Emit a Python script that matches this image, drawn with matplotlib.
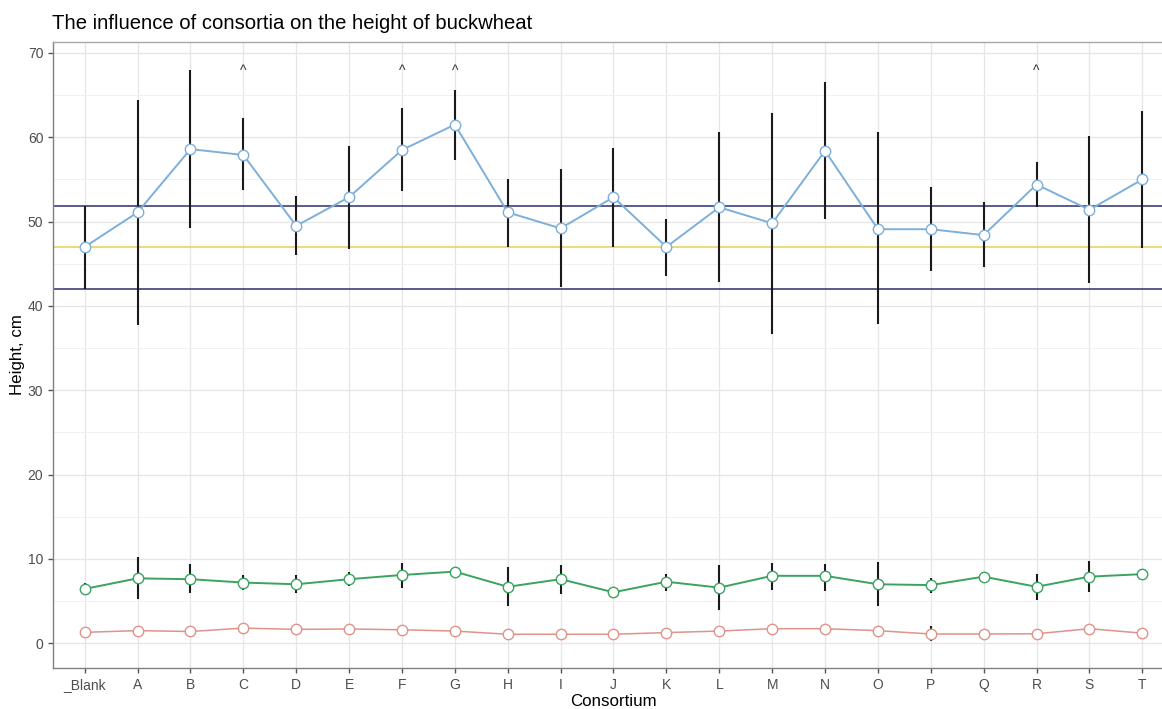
import matplotlib
matplotlib.use("Agg")
import matplotlib.pyplot as plt
from matplotlib.ticker import MultipleLocator
import numpy as np

plt.rcParams['font.family'] = ['Liberation Sans', 'DejaVu Sans']

categories = ["_Blank", "A", "B", "C", "D", "E", "F", "G", "H", "I", "J",
              "K", "L", "M", "N", "O", "P", "Q", "R", "S", "T"]

height_mean = [47.0, 51.1, 58.6, 57.9, 49.5, 52.9, 58.5, 61.5, 51.1, 49.2, 52.9,
               47.0, 51.7, 49.8, 58.4, 49.1, 49.1, 48.4, 54.4, 51.4, 55.0]
height_hi = [51.8, 64.4, 68.0, 62.3, 53.0, 59.0, 63.5, 65.6, 55.1, 56.2, 58.7,
             50.3, 60.6, 62.9, 66.5, 60.6, 54.1, 52.3, 57.1, 60.2, 63.1]
height_lo = [42.0, 37.8, 49.2, 53.7, 46.1, 46.7, 53.6, 57.3, 47.0, 42.2, 47.0,
             43.6, 42.8, 36.7, 50.3, 37.9, 44.1, 44.6, 51.7, 42.7, 46.9]

green_mean = [6.45, 7.7, 7.6, 7.2, 7.0, 7.6, 8.1, 8.5, 6.7, 7.6, 6.05,
              7.3, 6.6, 8.0, 8.0, 7.0, 6.9, 7.9, 6.7, 7.9, 8.2]
green_hi = [7.2, 10.2, 9.4, 8.1, 8.1, 8.4, 9.5, 8.6, 9.0, 9.3, 6.1,
            8.2, 9.3, 9.5, 9.4, 9.6, 7.7, 8.0, 8.2, 9.7, 8.6]
green_lo = [5.9, 5.2, 6.0, 6.3, 6.0, 6.8, 6.6, 8.4, 4.4, 5.9, 6.0,
            6.2, 3.95, 6.3, 6.2, 4.4, 6.0, 7.8, 5.1, 6.05, 7.5]

red_mean = [1.3, 1.5, 1.4, 1.8, 1.65, 1.7, 1.6, 1.45, 1.07, 1.07, 1.07,
            1.27, 1.45, 1.73, 1.73, 1.5, 1.1, 1.1, 1.13, 1.73, 1.2]
red_hi = [1.5, 1.7, 1.6, 2.0, 1.9, 1.9, 1.8, 1.6, 1.2, 1.2, 1.2,
          1.4, 1.6, 1.9, 1.9, 1.7, 2.0, 1.2, 1.3, 1.9, 1.4]
red_lo = [1.1, 1.3, 1.2, 1.6, 1.4, 1.5, 1.4, 1.3, 0.95, 0.95, 0.95,
          1.1, 1.3, 1.55, 1.55, 1.3, 0.3, 1.0, 1.0, 1.55, 1.0]

blank_mean = 47.0
blank_upper = 51.8
blank_lower = 42.0

marked = ["C", "F", "G", "R"]
caret_y = 67.4

fig = plt.figure(figsize=(11.62, 7.09), dpi=100)
ax = fig.add_axes([53 / 1162, 1 - 668 / 709, (1174 - 53) / 1162, (668 - 42) / 709])

x = np.arange(len(categories))

ax.set_xlim(-0.6, len(categories) - 1 + 0.6)
ax.set_ylim(-2.93, 71.3)

ax.yaxis.set_major_locator(MultipleLocator(10))
ax.yaxis.set_minor_locator(MultipleLocator(5))
ax.set_xticks(x)
ax.set_xticklabels(categories)

ax.grid(which='major', color='#E6E6E6', linewidth=0.9, zorder=0)
ax.grid(which='minor', axis='y', color='#F0F0F0', linewidth=0.7, zorder=0)
ax.set_axisbelow(True)

for sp in ax.spines.values():
    sp.set_color('#A8A8A8')
    sp.set_linewidth(1.0)
ax.spines['bottom'].set_color('#808080')
ax.spines['left'].set_color('#808080')

ax.tick_params(axis='both', which='major', length=3.5, width=1, color='#555555',
               labelsize=10, labelcolor='#4D4D4D')
ax.tick_params(axis='both', which='minor', length=0)

# reference lines
ax.axhline(blank_upper, color='#2E2E6E', linewidth=1.1, zorder=2)
ax.axhline(blank_lower, color='#2E2E6E', linewidth=1.1, zorder=2)
ax.axhline(blank_mean, color='#E8D050', linewidth=1.1, zorder=2)

series = [
    (height_mean, height_lo, height_hi, '#7DAFDA', 1.4),
    (green_mean, green_lo, green_hi, '#3AA35F', 1.4),
    (red_mean, red_lo, red_hi, '#E0938A', 1.1),
]
for mean, lo, hi, col, lw in series:
    mean = np.array(mean)
    ax.vlines(x, lo, hi, color='#1A1A1A', linewidth=1.5, zorder=3)
    ax.plot(x, mean, color=col, linewidth=lw, zorder=4)
    ax.plot(x, mean, linestyle='none', marker='o', markersize=7.5,
            markerfacecolor='white', markeredgecolor=col, markeredgewidth=1.0, zorder=5)

for name in marked:
    ax.text(categories.index(name), caret_y, "^", ha='center', va='baseline',
            fontsize=10, color='#333333')

ax.set_xlabel("Consortium", fontsize=12.2, color='black', va='center')
ax.set_ylabel("Height, cm", fontsize=12.2, color='black', va='center')
ax.xaxis.set_label_coords((613 - 53) / 1121, (668 - 701) / 626)
ax.yaxis.set_label_coords((18 - 53) / 1121, 0.5)
fig.text(52 / 1162, 1 - 29 / 709, "The influence of consortia on the height of buckwheat",
         fontsize=14.6, color='black', ha='left', va='baseline')

fig.savefig("out.png", dpi=100)
